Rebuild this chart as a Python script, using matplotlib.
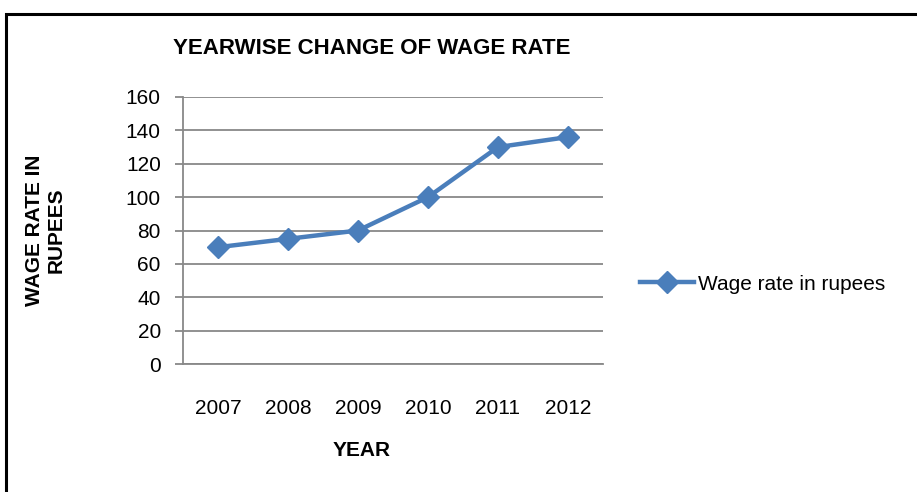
import matplotlib
matplotlib.use('Agg')
import matplotlib.pyplot as plt
from matplotlib.patches import Rectangle
from matplotlib import font_manager

years = ['2007', '2008', '2009', '2010', '2011', '2012']
wage = [70, 75, 80, 100, 130, 136]
yticks = [0, 20, 40, 60, 80, 100, 120, 140, 160]

names = {f.name for f in font_manager.fontManager.ttflist}
fam = 'Liberation Sans Narrow' if 'Liberation Sans Narrow' in names else 'Liberation Sans'
plt.rcParams['font.family'] = [fam, 'DejaVu Sans']

blue = '#4a7ebb'
grey = '#888888'

fig = plt.figure(figsize=(9.17, 4.92), dpi=100)
ax = fig.add_axes([183/917, 1-364/492, 420/917, 267/492])

x = list(range(len(years)))
ax.plot(x, wage, color=blue, lw=3.2, marker='D', ms=11, mec=blue, mfc=blue,
        label='Wage rate in rupees')

ax.set_xlim(-0.5, 5.5)
ax.set_ylim(0, 160)
ax.set_yticks(yticks)
ax.set_xticks(x)
ax.set_xticklabels(years)
ax.yaxis.grid(True, color=grey, lw=1.3)
ax.set_axisbelow(True)
for s in ['top', 'right']:
    ax.spines[s].set_visible(False)
ax.spines['left'].set_color(grey)
ax.spines['left'].set_linewidth(1.3)
ax.spines['bottom'].set_color(grey)
ax.spines['bottom'].set_linewidth(1.3)
ax.tick_params(axis='y', length=6, width=1.3, color=grey, labelsize=15, pad=10)
ax.tick_params(axis='x', length=0, labelsize=15, pad=25)

fig.text(372/917, 1-48/492, 'YEARWISE CHANGE OF WAGE RATE', ha='center', va='center',
         fontsize=16, fontweight='bold')
fig.text(45/917, 1-230/492, 'WAGE RATE IN\nRUPEES', ha='center', va='center',
         rotation=90, fontsize=15, fontweight='bold', linespacing=1.2)
fig.text(362/917, 1-450/492, 'YEAR', ha='center', va='center',
         fontsize=15, fontweight='bold')

ax.legend(loc='center left', bbox_to_anchor=(640/917, 1-284/492),
          bbox_transform=fig.transFigure, frameon=False, fontsize=15,
          handlelength=2.6, handletextpad=0.2, borderaxespad=0, borderpad=0)

fig.patches.append(Rectangle((6/917, -0.1), 1.2, 1.1 - 14/492, transform=fig.transFigure,
                             fill=False, ec='black', lw=2.2))

fig.savefig('out.png', dpi=100)
